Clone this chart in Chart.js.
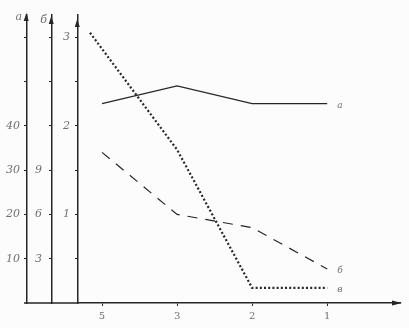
<!DOCTYPE html>
<html>
<head>
<meta charset="utf-8">
<script src="https://cdn.jsdelivr.net/npm/chart.js@4"></script>
<style>
  body { margin: 0; background: #fcfcfc; }
  #chart { display: block; }
</style>
</head>
<body>
<canvas id="chart" width="409" height="328"></canvas>
<script>
// Data
const categories = ["5", "3", "2", "1"];
const xPositions = [0, 1, 2, 3];
const dottedX = [-0.16, 1, 2, 3]; // dotted curve starts a little left of "5"

const seriesA = [45, 49, 45, 45];        // solid, axis a
const seriesB = [10.2, 6.0, 5.1, 2.3];   // dashed, axis б
const seriesV = [3.05, 1.73, 0.17, 0.17]; // dotted, axis в

const aTicks = [10, 20, 30, 40, 50, 60];
const aLabels = ["10", "20", "30", "40", "", ""];
const bTicks = [3, 6, 9, 12, 15, 18];
const bLabels = ["3", "6", "9", "", "", ""];
const vTicks = [0.5, 1, 1.5, 2, 2.5, 3];
const vLabels = ["", "1", "", "2", "", "3"];

const seriesNames = ["а", "б", "в"];
const axisTitles = ["а", "б"];

const INK = "#262626";
const TEXT = "#707070";
const tickFont = { family: "DejaVu Serif", size: 11, style: "italic" };

function pts(xs, ys) {
  return ys.map((y, i) => ({ x: xs[i], y: y }));
}

function yAxis(min, max, ticks, labels, width, pad) {
  return {
    type: "linear",
    position: "left",
    min: min,
    max: max,
    afterFit: (s) => { s.width = width; },
    afterBuildTicks: (s) => { s.ticks = ticks.map(v => ({ value: v })); },
    grid: { drawOnChartArea: false, drawTicks: true, tickLength: 3, tickColor: INK, tickWidth: 1 },
    border: { display: true, color: INK, width: 1.5 },
    ticks: {
      color: TEXT,
      font: tickFont,
      padding: pad,
      callback: (v, i) => labels[i]
    }
  };
}

// arrows, extra x axis piece, axis titles and curve names
const decorations = {
  id: "decorations",
  afterDraw(chart) {
    const ctx = chart.ctx;
    const area = chart.chartArea;
    const ids = ["yA", "yB", "yV"];
    ctx.save();
    ctx.fillStyle = INK;
    ctx.strokeStyle = INK;

    ids.forEach((id, i) => {
      const x = chart.scales[id].right - 0.75;
      const top = area.top - 2 + i * 3;
      ctx.beginPath();
      ctx.moveTo(x, top);
      ctx.lineTo(x - 2.5, top + 8);
      ctx.lineTo(x + 2.5, top + 8);
      ctx.closePath();
      ctx.fill();
    });

    // x axis runs left to the first vertical axis, arrow at the right
    const y0 = area.bottom;
    ctx.lineWidth = 1.5;
    ctx.beginPath();
    ctx.moveTo(chart.scales.yA.right - 3, y0);
    ctx.lineTo(area.left, y0);
    ctx.stroke();
    ctx.beginPath();
    ctx.moveTo(area.right + 2, y0);
    ctx.lineTo(area.right - 8, y0 - 2.5);
    ctx.lineTo(area.right - 8, y0 + 2.5);
    ctx.closePath();
    ctx.fill();

    ctx.fillStyle = TEXT;
    ctx.font = "italic 11px 'DejaVu Serif'";
    ctx.textAlign = "right";
    ctx.textBaseline = "middle";
    axisTitles.forEach((t, i) => {
      const s = chart.scales[ids[i]];
      ctx.fillText(t, s.right - 5, area.top + 2 + i * 3);
    });

    ctx.textAlign = "left";
    ctx.font = "italic 9px 'DejaVu Serif'";
    chart.data.datasets.forEach((ds, i) => {
      const meta = chart.getDatasetMeta(i);
      const last = meta.data[meta.data.length - 1];
      ctx.fillText(seriesNames[i], last.x + 10, last.y + 2);
    });
    ctx.restore();
  }
};

new Chart(document.getElementById("chart"), {
  type: "line",
  data: {
    datasets: [
      {
        label: seriesNames[0],
        data: pts(xPositions, seriesA),
        yAxisID: "yA",
        borderColor: INK,
        borderWidth: 1.2
      },
      {
        label: seriesNames[1],
        data: pts(xPositions, seriesB),
        yAxisID: "yB",
        borderColor: INK,
        borderWidth: 1.2,
        borderDash: [10, 8]
      },
      {
        label: seriesNames[2],
        data: pts(dottedX, seriesV),
        yAxisID: "yV",
        borderColor: INK,
        borderWidth: 2.2,
        borderDash: [2, 2.2]
      }
    ]
  },
  options: {
    responsive: false,
    animation: false,
    devicePixelRatio: 1,
    layout: { padding: { left: 0, top: 15, right: 9, bottom: 0 } },
    elements: { point: { radius: 0 }, line: { tension: 0 } },
    plugins: {
      legend: { display: false },
      tooltip: { enabled: false }
    },
    scales: {
      x: {
        type: "linear",
        min: -0.32,
        max: 3.97,
        afterFit: (s) => { s.height = 25; },
        afterBuildTicks: (s) => { s.ticks = xPositions.map(v => ({ value: v })); },
        grid: { drawOnChartArea: false, drawTicks: true, tickLength: 3, tickColor: INK },
        border: { display: true, color: INK, width: 1.5 },
        ticks: {
          color: TEXT,
          font: { family: "DejaVu Serif", size: 10 },
          padding: 4,
          callback: (v, i) => categories[i]
        }
      },
      // left axes are stacked from the plot outwards, so innermost first
      yV: yAxis(0, 3.25, vTicks, vLabels, 26, 5),
      yB: yAxis(0, 19.5, bTicks, bLabels, 25, 7),
      yA: yAxis(0, 65, aTicks, aLabels, 27, 4)
    }
  },
  plugins: [decorations]
});
</script>
</body>
</html>
